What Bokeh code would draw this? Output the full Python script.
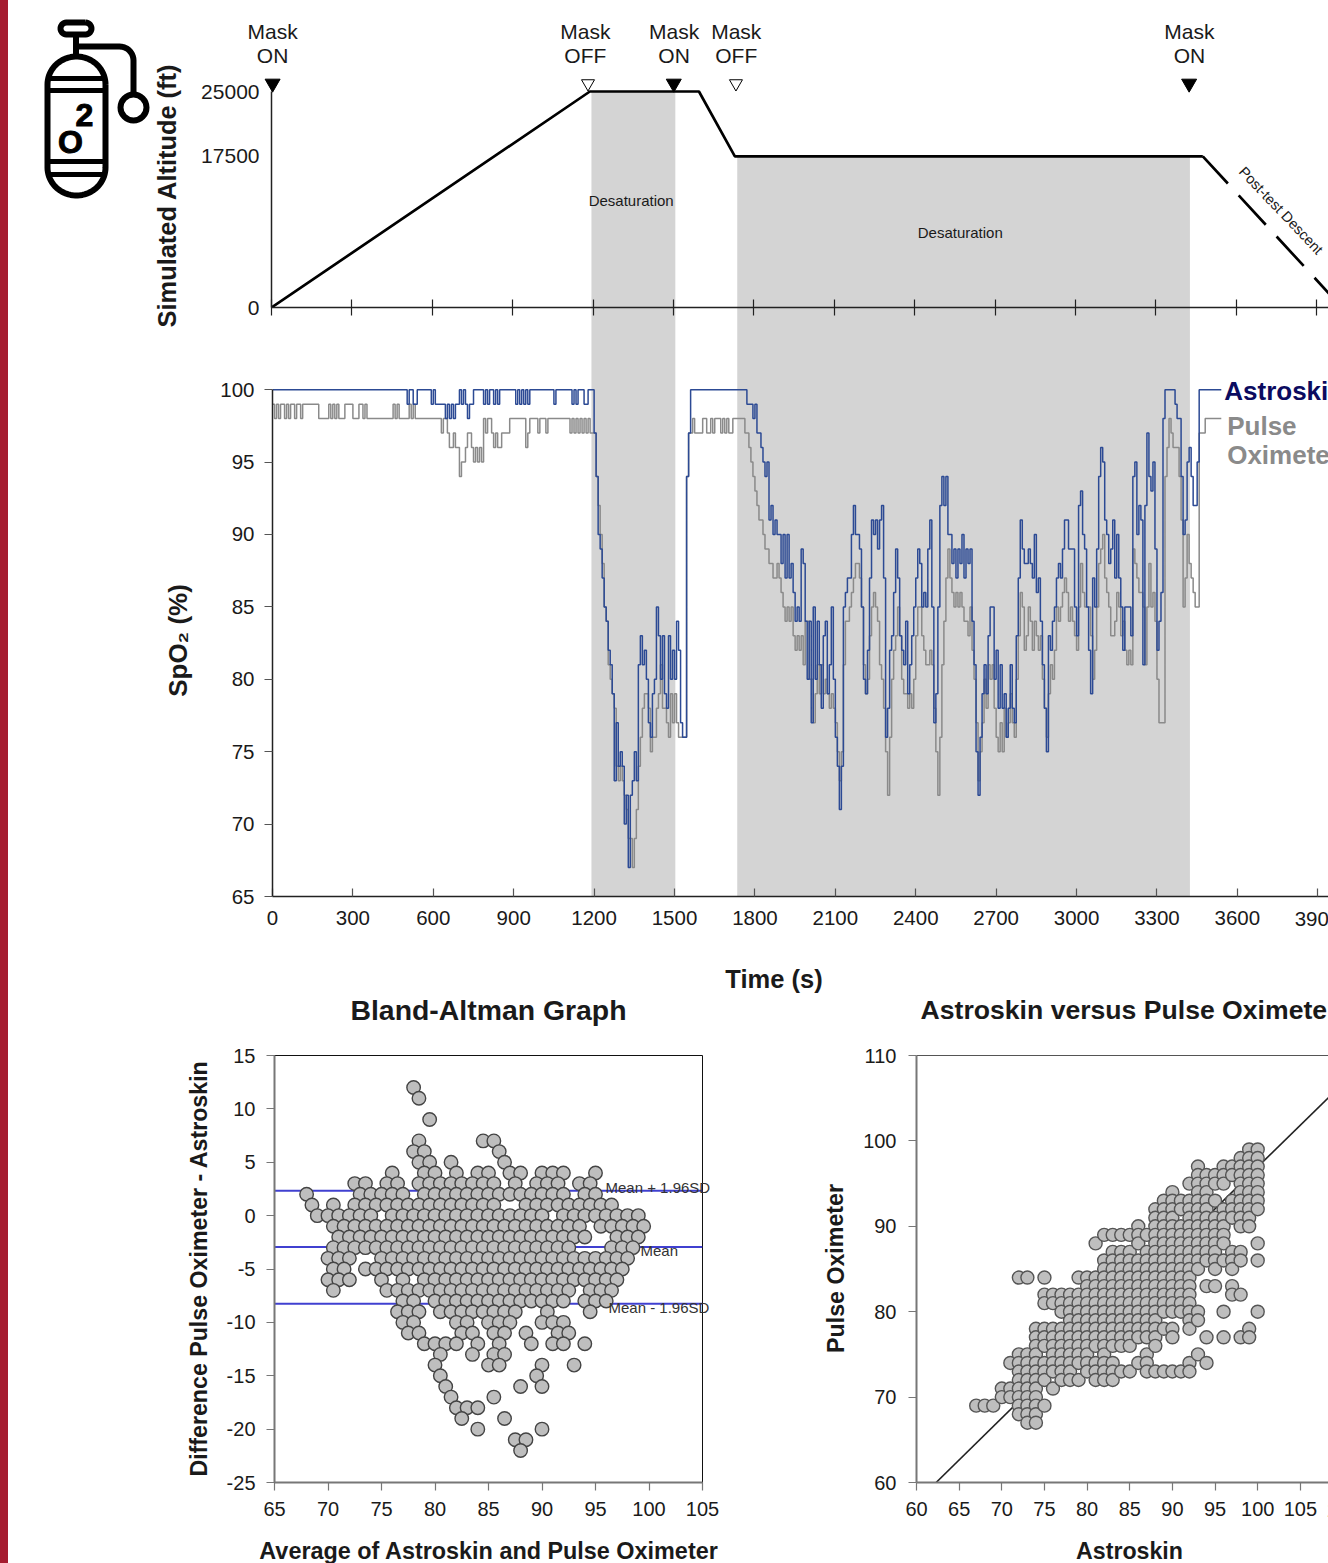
import numpy as np
from bokeh.embed import file_html
from bokeh.resources import INLINE
from bokeh.plotting import figure
from bokeh.layouts import column, row
from bokeh.models import Range1d, LinearAxis, FixedTicker, Div
from bokeh.core.properties import value

FONT = "Liberation Sans"

# ---------------- altitude profile ----------------
alt_t = [0, 1188, 1595, 1729, 3475]
alt_v = [0, 25000, 25000, 17500, 17500]
desc_t = [3475, 3994]
desc_v = [17500, 0]
mask_events = ["Mask\nON", "Mask\nOFF", "Mask\nON", "Mask\nOFF", "Mask\nON"]
mask_t = [3, 1170, 1501, 1733, 3424]
mask_start_t = 3
mask_filled_t = [1501, 3424]
mask_open_t = [1181, 1733]
shade_left = [1190, 1734]
shade_right = [1503, 3423]
shade_top = [25000, 17500]
alt_ticks = [0, 17500, 25000]
time_ticks = list(range(0, 3901, 300))

# ---------------- SpO2 series: one reading each 7.5 s ----------------
DT = 7.5
astroskin = [
 100,100,100,100,100,100,100,100,100,100, 100,100,100,100,100,100,100,100,100,100,
 100,100,100,100,100,100,100,100,100,100, 100,100,100,100,100,100,100,100,100,100,
 100,100,100,100,100,100,100,100,100,100, 100,100,100,100,100,100,100,100,100,100,
 100,100,100,100,100,100,100,99,100,100, 99,99,100,100,100,100,100,100,100,99,
 100,99,99,99,99,99,98,99,98,99, 98,99,99,100,99,100,99,98,99,99,
 100,100,100,100,100,99,100,99,100,100, 99,100,99,100,100,100,100,100,100,100,
 100,99,100,99,100,99,100,99,100,100, 100,100,100,100,100,100,100,100,100,100,
 99,100,100,100,100,100,100,100,100,99, 100,99,100,100,100,99,99,100,100,100,
 97,94,90,89,87,85,84,82,81,79, 73,77,74,75,74,70,72,67,72,73,
 75,73,81,83,81,82,80,77,76,79, 80,85,83,80,83,79,78,83,80,82,
 80,84,82,77,76,76,94,97,100,100, 100,100,100,100,100,100,100,100,100,100,
 100,100,100,100,100,100,100,100,100,100, 100,100,100,100,100,100,99,99,99,98,
 99,97,97,96,95,94,95,91,92,90, 91,90,90,88,90,87,90,87,88,86,
 84,85,84,89,88,84,80,84,77,85, 80,84,81,78,83,84,79,81,85,80,
 76,74,71,74,85,86,87,87,90,92, 90,90,89,85,80,79,82,87,91,90,
 91,89,91,92,87,76,78,82,83,86, 89,87,83,82,81,84,79,81,83,85,
 87,89,88,85,86,85,89,91,85,77, 79,85,92,94,92,94,90,90,88,89,
 87,89,88,90,87,89,88,89,84,81, 75,72,76,79,81,79,83,85,85,80,
 82,78,81,78,79,76,78,81,78,77, 83,87,91,89,88,88,89,88,87,90,
 86,87,84,81,78,75,83,82,84,85, 87,88,87,89,91,91,89,89,89,85,
 83,92,93,90,89,85,82,79,87,85, 89,94,96,95,91,90,88,89,91,87,
 90,87,85,82,85,85,85,83,94,95, 90,92,91,81,92,97,94,93,95,89,
 82,84,86,98,100,100,100,100,100,99, 98,98,94,90,91,95,96,94,92,92,
 95,100,100,100,100,100,100,100,100,100, 100,100,100,
]
oximeter = [
 99,98,99,98,99,99,98,99,98,99, 99,98,99,99,98,99,99,99,99,99,
 99,99,99,98,98,98,98,98,99,98, 99,98,99,98,98,98,99,99,99,99,
 98,98,98,99,99,98,99,98,98,98, 98,98,98,98,98,98,98,98,98,98,
 99,98,99,98,98,98,98,98,99,98, 99,98,98,98,98,98,98,98,98,98,
 98,98,98,98,97,98,98,97,96,96, 97,96,96,94,95,95,96,97,97,96,
 95,96,95,96,95,98,97,98,98,97, 96,97,96,96,97,97,97,97,98,98,
 98,98,98,98,98,98,96,97,98,98, 98,98,97,98,98,98,97,98,98,98,
 98,98,98,98,98,98,98,98,97,98, 97,98,97,98,97,98,97,98,97,97,
 97,94,92,90,88,85,84,81,80,79, 78,74,73,74,73,72,71,69,69,67,
 69,71,74,76,78,79,79,78,75,76, 76,78,79,81,78,78,77,76,79,77,
 79,77,76,76,76,76,94,97,97,98, 97,97,97,97,98,98,97,97,98,97,
 98,98,98,97,98,97,98,97,97,98, 98,98,98,98,98,97,97,96,95,94,
 93,92,91,91,90,89,89,88,88,87, 87,88,87,86,85,84,85,84,85,83,
 82,83,82,83,81,84,84,80,80,77, 79,81,79,81,79,80,79,78,79,78,
 77,75,73,75,81,84,84,85,86,87, 88,88,87,85,81,79,80,83,85,86,
 85,84,81,80,78,75,72,76,80,82, 83,85,83,80,79,79,78,79,78,80,
 83,85,85,83,82,81,81,82,81,78, 75,72,76,81,84,87,89,87,86,85,
 86,85,86,85,84,84,83,85,82,80, 77,73,75,77,80,78,81,80,81,78,
 76,75,77,75,78,76,77,79,77,76, 80,83,86,85,82,83,85,84,82,84,
 83,82,83,80,78,76,79,81,80,82, 85,84,85,86,87,86,84,85,84,83,
 82,85,88,86,85,85,85,83,80,82, 85,88,89,90,87,86,85,83,83,84,
 86,85,83,84,82,81,82,81,89,88, 87,86,86,85,81,85,88,85,86,84,
 80,77,77,77,94,96,98,97,96,96, 96,94,91,85,87,90,88,87,86,85,
 85,97,97,97,98,98,98,98,98,98, 98,98,98,
]
spo2_ticks = [65, 70, 75, 80, 85, 90, 95, 100]

# ---------------- Bland-Altman: difference -> averages (runs are inclusive, step 1) ----------------
ba_rows = {
 12: [78], 11: [78.5], 9: [79.5], 7: [78.5, 84.5, 85.5], 6: [78, 79, 86],
 5: [78.5, 79.5, 81.5, 86.5], 4: [76, 79, 80, 82, 84, 85, 87, 88, 90, 91, 92, 95],
 3: [72.5, 73.5, 75.5, 76.5, (78.5, 85.5), 87.5, 89.5, 90.5, 91.5, 93.5, 94.5],
 2: [68, (73, 77), (79, 92), 94, 95],
 1: [68.5, 70.5, (72.5, 85.5), (88.5, 96.5)],
 0: [(69, 74), (76, 90), (92, 99)],
 -1: [(70.5, 93.5), (95.5, 99.5)],
 -2: [(71, 94), (97, 99)],
 -3: [(70.5, 92.5), (96.5, 98.5)],
 -4: [(70, 72), (75, 98)],
 -5: [70.5, 71.5, (73.5, 97.5)],
 -6: [70, 71, 72, 75, 77, (79, 97)],
 -7: [70.5, (75.5, 92.5), 94.5, 95.5, 96.5],
 -8: [77, 78, (80, 92), 94, 95, 96],
 -9: [76.5, 77.5, 78.5, (80.5, 87.5), 90.5, 94.5],
 -10: [77, 78, 82, 83, 85, 86, 87, 90, 91, 92],
 -11: [77.5, 78.5, 82.5, 83.5, 85.5, 86.5, 88.5, 91.5, 92.5],
 -12: [79, 80, 81, 82, 84, 86, 89, 91, 92, 94],
 -13: [80.5, 83.5, 85.5, 86.5],
 -14: [80, 85, 86, 90, 93],
 -15: [80.5, 89.5],
 -16: [81, 88, 90],
 -17: [81.5, 85.5],
 -18: [82, 83, 84],
 -19: [82.5, 86.5],
 -20: [84, 90],
 -21: [87.5, 88.5],
 -22: [88],
}
ba_limits = [2.34, -2.94, -8.25]
ba_limit_names = ["Mean + 1.96SD", "Mean", "Mean - 1.96SD"]
ba_name_px = [605, 640, 608]
ba_name_py = [1186.5, 1250, 1306.5]
ba_xticks = [65, 70, 75, 80, 85, 90, 95, 100, 105]
ba_yticks = [-25, -20, -15, -10, -5, 0, 5, 10, 15]

fit_x = [62.3, 112.0]
fit_y = [60.0, 108.7]
sc_xticks = [60, 65, 70, 75, 80, 85, 90, 95, 100, 105]
sc_yticks = [60, 70, 80, 90, 100, 110]

ba_avg, ba_diff = [], []
for d_, items in ba_rows.items():
    for it in items:
        if isinstance(it, tuple):
            vals = np.arange(it[0], it[1] + 0.01, 1.0)
        else:
            vals = [it]
        for a_ in vals:
            ba_avg.append(float(a_))
            ba_diff.append(d_)
ba_avg = np.array(ba_avg)
ba_diff = np.array(ba_diff, dtype=float)
sc_astro = ba_avg - ba_diff / 2
sc_pulse = ba_avg + ba_diff / 2

TXT = "#1a1a1a"


def style_axis(ax, size="20px"):
    ax.major_label_text_font = FONT
    ax.major_label_text_font_size = size
    ax.major_label_text_color = TXT
    ax.minor_tick_line_color = None


# ================ SpO2 figure (with the grey shading rising behind the altitude panel) ================
a = figure(width=1320, height=987, output_backend="svg", toolbar_location=None,
           x_range=Range1d(0, 3940), y_range=Range1d(65, 122.73),
           min_border_left=264, min_border_right=0, min_border_top=52, min_border_bottom=99,
           outline_line_color=None, background_fill_color=None, border_fill_color=None)
a.grid.visible = False
a.extra_y_ranges = {"alt": Range1d(-68171, 28588)}
a.quad(left=shade_left, right=shade_right, top=shade_top, bottom=[-68171, -68171],
       y_range_name="alt", fill_color="#D4D4D4", line_color=None)
t_axis = np.arange(len(astroskin)) * DT
a.step(t_axis[:len(oximeter)], oximeter, mode="after", line_color="#8A8A8A", line_width=1.5)
a.step(t_axis, astroskin, mode="after", line_color="#2C4A94", line_width=1.5)
a.text(x=[3551], y=[99.92], text=["Astroskin"], text_font=value(FONT), text_font_style="bold",
       text_font_size="26px", text_color="#0B0B60", text_baseline="middle")
a.text(x=[3562, 3562], y=[97.52, 95.47], text=["Pulse", "Oximeter"], text_font=value(FONT),
       text_font_style="bold", text_font_size="26px", text_color="#8A8A8A", text_baseline="middle")
style_axis(a.xaxis[0], "20.5px")
style_axis(a.yaxis[0], "20.5px")
a.xaxis.ticker = FixedTicker(ticks=time_ticks)
a.xaxis.major_label_overrides = {3900: ""}
a.yaxis.ticker = FixedTicker(ticks=spo2_ticks)
a.yaxis.bounds = (65, 100)
a.yaxis.major_tick_out = 8
a.yaxis.major_tick_in = 0
a.yaxis.major_label_standoff = 10
a.xaxis.major_tick_out = 0
a.xaxis.major_tick_in = 8
a.xaxis.major_label_standoff = 14
for ax in (a.xaxis[0], a.yaxis[0]):
    ax.axis_line_color = "#222222"
    ax.axis_line_width = 1.5
    ax.major_tick_line_color = "#555555"
    ax.major_tick_line_width = 1.2

# ================ altitude figure, transparent, over the shading ================
b = figure(width=1320, height=330, output_backend="svg", toolbar_location=None,
           x_range=Range1d(0, 3944), y_range=Range1d(0, 34607),
           min_border_left=263, min_border_right=0, min_border_top=0, min_border_bottom=31,
           outline_line_color=None, background_fill_color=None, border_fill_color=None)
b.grid.visible = False
b.line(alt_t, alt_v, line_color="black", line_width=2.7)
b.line(desc_t, desc_v, line_color="black", line_width=2.7, line_dash="40 16", line_dash_offset=3)
b.scatter(mask_filled_t, [25925] * len(mask_filled_t), marker="inverted_triangle", size=15,
          fill_color="black", line_color="black")
b.scatter(mask_open_t, [25925] * len(mask_open_t), marker="inverted_triangle", size=13,
          fill_color="white", line_color="black", line_width=1)
b.text(x=[1342, 2570], y=[12384, 8680], text=["Desaturation", "Desaturation"], text_font=value(FONT),
       text_font_size="15px", text_color=TXT, text_align="center", text_baseline="middle")
b.text(x=[3767], y=[11227], text=["Post-test Descent"], angle=[-0.81], text_font=value(FONT),
       text_font_size="14.5px", text_color=TXT, text_align="center", text_baseline="middle")
style_axis(b.xaxis[0], "1px")
style_axis(b.yaxis[0], "21px")
b.xaxis.ticker = FixedTicker(ticks=time_ticks)
b.xaxis.major_label_text_color = None
b.xaxis.major_tick_in = 8
b.xaxis.major_tick_out = 8
b.yaxis.ticker = FixedTicker(ticks=alt_ticks)
b.yaxis.bounds = (0, 25000)
b.yaxis.major_tick_in = 0
b.yaxis.major_tick_out = 0
b.yaxis.major_label_standoff = 12
for ax in (b.xaxis[0], b.yaxis[0]):
    ax.axis_line_color = "#222222"
    ax.axis_line_width = 1.5
    ax.major_tick_line_color = "#222222"
    ax.major_tick_line_width = 1.2

# ================ Bland-Altman ================
c = figure(width=772, height=568, output_backend="svg", toolbar_location=None,
           x_range=Range1d(65, 105), y_range=Range1d(-25, 15),
           min_border_left=266, min_border_right=78, min_border_top=60, min_border_bottom=81,
           outline_line_color="#111111", outline_line_width=1,
           background_fill_color=None, border_fill_color=None)
c.grid.visible = False
for lim in ba_limits:
    c.line([65, 105], [lim, lim], line_color="#4040D0", line_width=2)
c.scatter(ba_avg, ba_diff, size=13.5, fill_color="#BEBEBE", line_color="#444444", line_width=1.4)
style_axis(c.xaxis[0])
style_axis(c.yaxis[0])
c.xaxis.ticker = FixedTicker(ticks=ba_xticks)
c.yaxis.ticker = FixedTicker(ticks=ba_yticks)
c.yaxis.major_label_overrides = {v: str(v) for v in ba_yticks}
for ax in (c.xaxis[0], c.yaxis[0]):
    ax.axis_line_color = "#777777"
    ax.axis_line_width = 2
    ax.major_tick_line_color = "#777777"
    ax.major_tick_line_width = 1.2
    ax.major_tick_out = 8
    ax.major_tick_in = 0
c.xaxis.major_label_standoff = 11
c.yaxis.major_label_standoff = 11

# ================ Astroskin versus Pulse Oximeter ================
d = figure(width=548, height=568, output_backend="svg", toolbar_location=None,
           x_range=Range1d(60, 108.3), y_range=Range1d(60, 110),
           min_border_left=136, min_border_right=0, min_border_top=60, min_border_bottom=81,
           outline_line_color=None, background_fill_color=None, border_fill_color=None)
d.grid.visible = False
d.line(fit_x, fit_y, line_color="#222222", line_width=1.6)
d.scatter(sc_astro, sc_pulse, size=13, fill_color="#BEBEBE", line_color="#555555", line_width=1.4)
style_axis(d.below[0])
style_axis(d.left[0])
d.below[0].ticker = FixedTicker(ticks=sc_xticks)
d.left[0].ticker = FixedTicker(ticks=sc_yticks)
for ax in (d.below[0], d.left[0]):
    ax.axis_line_color = "#777777"
    ax.axis_line_width = 2
    ax.major_tick_line_color = "#777777"
    ax.major_tick_line_width = 1.2
    ax.major_tick_out = 8
    ax.major_tick_in = 0
d.below[0].major_label_standoff = 11
d.left[0].major_label_standoff = 12
top_ax = LinearAxis(ticker=FixedTicker(ticks=[]), axis_line_color="#555555", axis_line_width=1,
                    major_label_text_color=None, major_tick_line_color=None, minor_tick_line_color=None)
d.add_layout(top_ax, "above")

# ================ transparent page-wide overlay in page pixels: free texts and the oxygen icon ================
ov = figure(width=1320, height=1555, output_backend="svg", toolbar_location=None,
            x_range=Range1d(8, 1328), y_range=Range1d(1563, 8),
            min_border_left=0, min_border_right=0, min_border_top=0, min_border_bottom=0,
            outline_line_color=None, background_fill_color=None, border_fill_color=None)
ov.axis.visible = False
ov.grid.visible = False


def page_text(px, py, text, size, bold=False, color=TXT, align="center", angle=0.0, line_height=1.2):
    ov.text(x=[px], y=[py], text=[text], angle=[angle], text_font=value(FONT), text_font_size=size,
            text_font_style="bold" if bold else "normal", text_color=color, text_align=align,
            text_baseline="middle", text_line_height=line_height)


page_text(1317, 918, "3900", "20.5px")
page_text(773.5, 978, "Time (s)", "25.5px", bold=True)
page_text(177, 640, "SpO₂ (%)", "26px", bold=True, angle=np.pi / 2)
page_text(166.5, 195, "Simulated Altitude (ft)", "25.4px", bold=True, angle=np.pi / 2)
for txt, tt in zip(mask_events, mask_t):
    page_text(271.3 + 0.268 * tt, 43, txt, "21px", line_height=1.05)
for nm, px, py in zip(ba_limit_names, ba_name_px, ba_name_py):
    page_text(px, py, nm, "15px", color="#333333", align="left")
page_text(488, 1009, "Bland-Altman Graph", "28.4px", bold=True)
page_text(198, 1268, "Difference Pulse Oximeter - Astroskin", "23.2px", bold=True, angle=np.pi / 2)
page_text(488.5, 1550, "Average of Astroskin and Pulse Oximeter", "23.4px", bold=True)
page_text(1128.5, 1009, "Astroskin versus Pulse Oximeter", "26.6px", bold=True)
page_text(835, 1268, "Pulse Oximeter", "23.2px", bold=True, angle=np.pi / 2)
page_text(1129, 1550, "Astroskin", "23.2px", bold=True)
page_text(1342, 1509, "110", "20px")

# first mask marker straddles the altitude axis, so it is drawn on the overlay
ov.scatter(x=[271.3 + 0.268 * mask_start_t], y=[83], marker="inverted_triangle", size=15,
           fill_color="black", line_color="black")

th = np.linspace(0, np.pi, 40)
tank_x = np.concatenate([76 + 29 * np.cos(th), 76 - 29 * np.cos(th), [105]])
tank_y = np.concatenate([84 - 28 * np.sin(th), 167 + 28 * np.sin(th), [84]])
ov.line(tank_x, tank_y, line_color="black", line_width=6)
for yy in (78, 90, 161, 174):
    ov.line([47, 105], [yy, yy], line_color="black", line_width=5)
ov.line([75.5, 75.5], [36, 56], line_color="black", line_width=6)
hose = np.linspace(0, np.pi / 2, 12)
ov.line(np.concatenate([[76], 119 + 14 * np.sin(hose), [133]]),
        np.concatenate([[46], 60 - 14 * np.cos(hose), [92]]), line_color="black", line_width=6)
ov.scatter(x=[133], y=[107], size=26, marker="circle", line_color="black", line_width=6, fill_color=None)
hx = np.linspace(-np.pi / 2, np.pi / 2, 12)
ov.line(np.concatenate([85 + 6 * np.cos(hx), 66 - 6 * np.cos(hx), [85]]),
        np.concatenate([28 + 6 * np.sin(hx), 28 - 6 * np.sin(hx), [22]]),
        line_color="black", line_width=6)
ov.text(x=[70, 84], y=[141, 114], text=["O", "2"], text_font=value(FONT), text_font_style="bold",
        text_font_size="32px", text_color="black", text_align="center", text_baseline="middle",
        text_outline_color="black")

strip = Div(text="", width=8, height=1563, margin=(0, 0, 0, 0),
            styles={"position": "fixed", "left": "0px", "top": "0px", "background-color": "#A51C30"})

b_wrap = row(b, margin=(-987, 0, 0, 0))
bottom = row(c, d, spacing=0, margin=(657, 0, 0, 0))
ov_wrap = row(ov, margin=(-1555, 0, 0, 0))
page = column(strip, a, b_wrap, bottom, ov_wrap, spacing=0, margin=(8, 0, 0, 8))
open("out.html", "w").write(file_html(page, INLINE))
